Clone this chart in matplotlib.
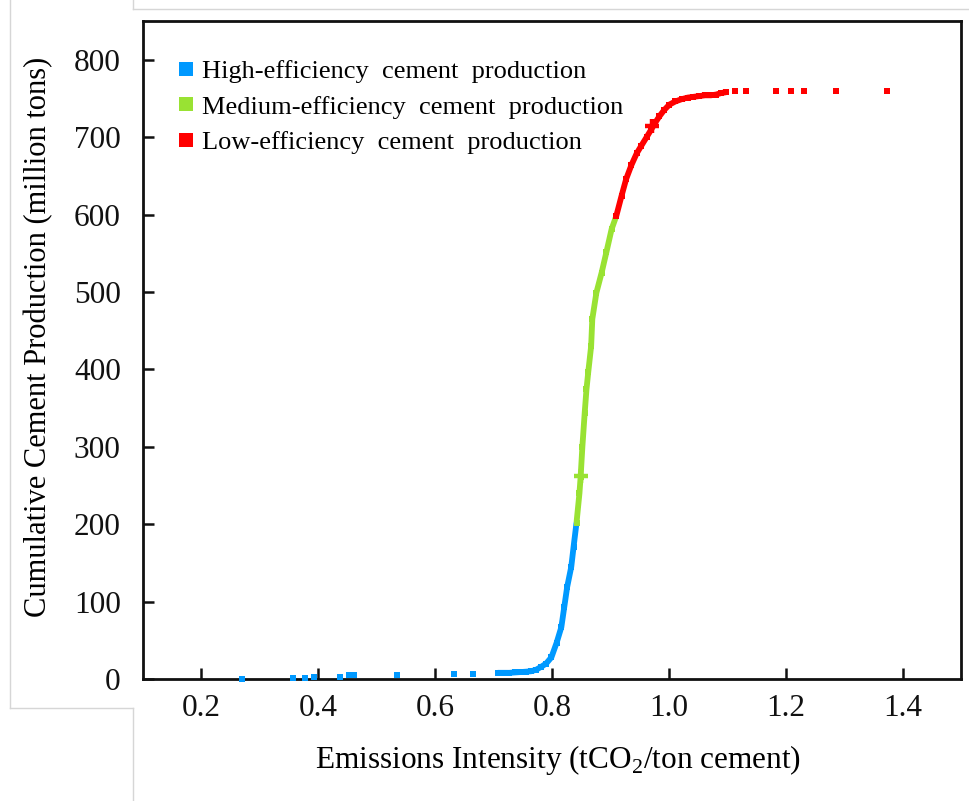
import numpy as np
import matplotlib.pyplot as plt
from matplotlib.lines import Line2D

plt.rcParams['font.family'] = ['Liberation Serif', 'DejaVu Serif']
plt.rcParams['mathtext.fontset'] = 'custom'
plt.rcParams['mathtext.rm'] = 'Liberation Serif'

# emission intensity (tCO2/t) vs cumulative production (Mt), plants sorted by intensity
high_x = [0.269, 0.356, 0.378, 0.392, 0.437, 0.452, 0.461, 0.534, 0.632, 0.664,
          0.707, 0.717, 0.727, 0.737, 0.747, 0.756, 0.764, 0.773, 0.782, 0.790,
          0.799, 0.808, 0.816, 0.821, 0.826, 0.833, 0.837, 0.842]
high_y = [0.5, 1, 1, 2.5, 3, 5, 5, 5, 6.5, 7,
          8, 8, 8, 8.5, 9, 9.5, 10, 12, 16, 20,
          28, 47, 67, 93, 119, 145, 171, 202]

mid_x = [0.842, 0.847, 0.849, 0.852, 0.856, 0.859, 0.862, 0.867, 0.869, 0.876,
         0.885, 0.893, 0.902, 0.910]
mid_y = [202, 240, 261, 300, 344, 374, 396, 430, 465, 499,
         525, 551, 581, 598]

low_x = [0.910, 0.919, 0.927, 0.936, 0.945, 0.953, 0.962, 0.970, 0.977, 0.984,
         0.992, 1.001, 1.011, 1.022, 1.032, 1.042, 1.052, 1.062, 1.072, 1.081,
         1.090, 1.098, 1.114, 1.132, 1.184, 1.209, 1.232, 1.286, 1.374]
low_y = [598, 624, 646, 664, 679, 689, 700, 710, 719, 727,
         735, 742, 746, 749, 751, 752, 753, 754, 754, 755,
         757, 758, 760, 760, 760, 760, 760, 760, 760]

# the "+" marks on the medium and low curves
cross_x = [0.849, 0.972]
cross_y = [262, 714]

labels = ['High-efficiency  cement  production',
          'Medium-efficiency  cement  production',
          'Low-efficiency  cement  production']
colors = ['#0099ff', '#99e233', '#ff0000']


def runs(x, y, gap=0.012):
    # split into pieces wherever neighbouring plants are far apart
    x = np.asarray(x); y = np.asarray(y)
    cut = np.where(np.diff(x) > gap)[0] + 1
    return zip(np.split(x, cut), np.split(y, cut))


fig = plt.figure(figsize=(9.69, 8.01), dpi=100)
ax = fig.add_axes([0.1476, 0.1523, 0.8441, 0.8215])

for xs, ys, c in [(high_x, high_y, colors[0]), (mid_x, mid_y, colors[1]), (low_x, low_y, colors[2])]:
    for px, py in runs(xs, ys):
        ax.plot(px, py, color=c, lw=4.2, marker='s', ms=4.0, mew=0,
                solid_capstyle='butt', solid_joinstyle='miter',
                zorder=3, clip_on=False)

ax.plot(cross_x[0], cross_y[0], marker='+', color=colors[1], ms=10, mew=3.2, zorder=4)
ax.plot(cross_x[1], cross_y[1], marker='+', color=colors[2], ms=10, mew=3.2, zorder=4)

ax.set_xlim(0.1, 1.5)
ax.set_ylim(0, 850)
ax.set_xticks([0.2, 0.4, 0.6, 0.8, 1.0, 1.2, 1.4])
ax.set_xticklabels(['0.2', '0.4', '0.6', '0.8', '1.0', '1.2', '1.4'])
ax.set_yticks(range(0, 801, 100))

for s in ax.spines.values():
    s.set_linewidth(2)
    s.set_color('#111111')
    s.set_zorder(2.5)
ax.tick_params(direction='in', length=8, width=1.8, labelsize=22.5, colors='#111111')
ax.tick_params(axis='x', pad=11)
ax.tick_params(axis='y', pad=16)

ax.set_xlabel('Emissions Intensity (tCO$_2$/ton cement)', fontsize=22.5)
ax.set_ylabel('Cumulative Cement Production (million tons)', fontsize=22)
ax.xaxis.set_label_coords(0.507, -0.098)
ax.yaxis.set_label_coords(-0.110, 0.52)

handles = [Line2D([], [], ls='none', marker='s', ms=9.5, mew=0, color=c) for c in colors]
ax.legend(handles, labels, loc='upper left', bbox_to_anchor=(0.024, 0.957), frameon=False,
          fontsize=19, handletextpad=0.1, labelspacing=0.45, handlelength=1.0,
          borderaxespad=0)

# thin grey frame lines around the plotting area
grey = '#d6d6d6'
W, H = 969.0, 801.0
for (x0, y0), (x1, y1) in [((10, 0), (10, 708)), ((10, 708), (133, 708)),
                           ((133, 708), (133, 801)), ((133, 0), (133, 9)),
                           ((133, 9), (969, 9))]:
    fig.add_artist(Line2D([x0 / W, x1 / W], [1 - y0 / H, 1 - y1 / H],
                          transform=fig.transFigure, color=grey, lw=1))

fig.savefig('out.png', dpi=100)
